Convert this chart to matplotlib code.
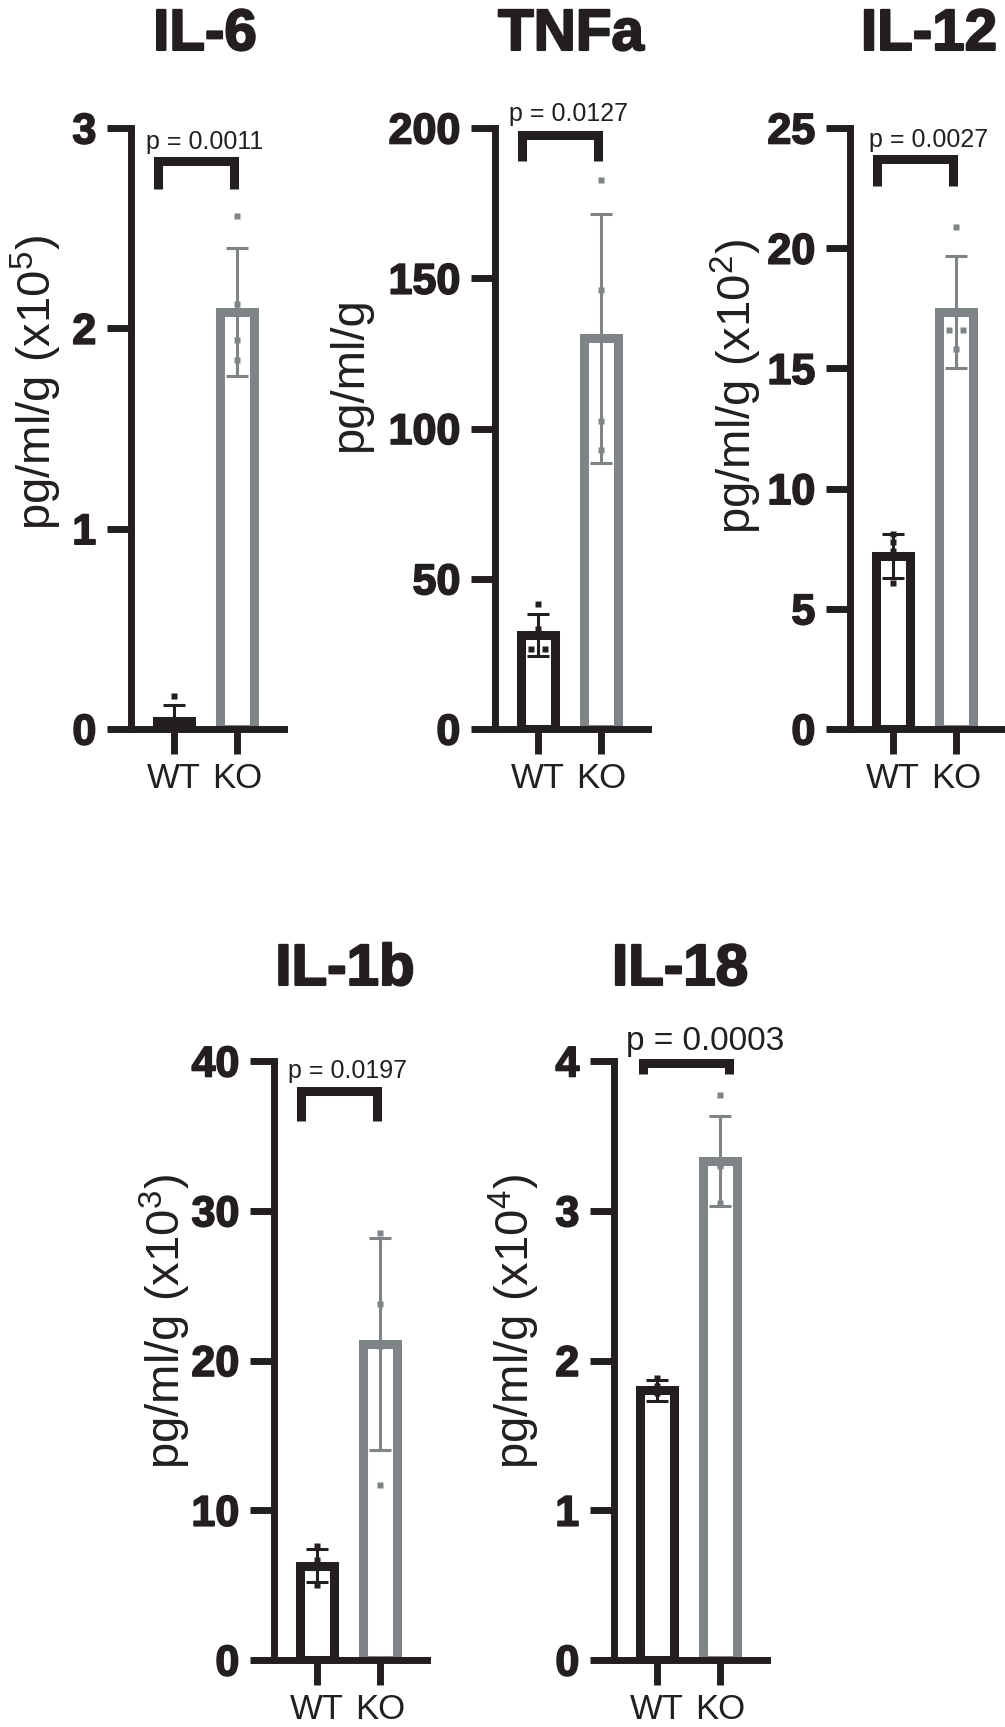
import matplotlib
matplotlib.use("Agg")
import matplotlib.pyplot as plt
import matplotlib.patheffects as pe
import numpy as np

plt.rcParams['font.family'] = ['Liberation Sans', 'DejaVu Sans']
plt.rcParams['mathtext.default'] = 'regular'

# ---------------- data ----------------
panels = ["IL-6", "TNFa", "IL-12", "IL-1b", "IL-18"]
groups = ["WT", "KO"]
ylabels = ["pg/ml/g (x10$^{5}$)", "pg/ml/g", "pg/ml/g (x10$^{2}$)",
           "pg/ml/g (x10$^{3}$)", "pg/ml/g (x10$^{4}$)"]
yticks = [[0, 1, 2, 3], [0, 50, 100, 150, 200], [0, 5, 10, 15, 20, 25],
          [0, 10, 20, 30, 40], [0, 1, 2, 3, 4]]
pvalues = ["p = 0.0011", "p = 0.0127", "p = 0.0027", "p = 0.0197", "p = 0.0003"]

wt_mean = [0.040, 31.3, 7.2, 6.3, 1.80]
wt_sd = [0.082, 7.1, 0.92, 1.08, 0.07]
ko_mean = [2.08, 130.0, 17.35, 21.1, 3.33]
ko_sd = [0.32, 41.4, 2.32, 7.1, 0.30]

wt_points = [[0.166, 0.004, 0.002, 0.003],
             [41.7, 33.2, 26.7, 26.7],
             [8.12, 7.77, 7.4, 6.06],
             [7.6, 6.3, 5.0, 6.7],
             [1.88, 1.80, 1.78, 1.83]]
ko_points = [[2.56, 2.12, 1.94, 1.84],
             [182.6, 146.0, 102.6, 92.8],
             [20.9, 16.6, 16.6, 15.8],
             [28.5, 23.8, 21.0, 11.7],
             [3.77, 3.31, 3.05, 3.30]]

# ---------------- layout / style ----------------
W, H = 1005, 1727
BLACK = '#231f20'
GRAY = '#7f8487'
axis_x = [131, 495, 850, 274, 614]
axis_top = [128, 128, 128, 1061, 1061]
axis_bot = [729, 729, 729, 1660, 1660]
title_xy = [(205, 35), (571, 35), (929, 35), (345, 970), (680, 970)]
ylabel_xy = [(36, 383), (350, 375), (736, 387), (165, 1322), (514, 1322)]
# bracket: (x_left, x_right, y_bar, y_leg, text_x, text_y, text_size)
brackets = [(-0.25, 0.95, 2.835, 2.695, 0.49, 2.93, 18),
            (-0.25, 0.95, 197.7, 189.0, 0.48, 204.7, 18),
            (-0.25, 0.95, 23.7, 22.6, 0.56, 24.5, 18),
            (-0.25, 0.95, 38.0, 36.0, 0.48, 39.3, 18),
            (-0.22, 1.15, 3.985, 3.91, 0.76, 4.13, 24)]
jitter_wt = [[0, 0, 0, 0], [0, 0, -0.11, 0.11], [0, 0, 0, 0], [0, 0, 0, 0], [0, 0, 0, 0]]
jitter_ko = [[0, 0, 0, 0], [0, 0, 0, 0], [0, -0.11, 0.11, 0], [0, 0, 0, 0], [0, 0, 0, 0]]

PX_PER_UNIT = 63.0
XL = -43 / PX_PER_UNIT
XR = 110 / PX_PER_UNIT
AX_W = 153
heavy = [pe.withStroke(linewidth=1.2, foreground=BLACK)]

fig = plt.figure(figsize=(W / 100, H / 100), dpi=100)

for i, name in enumerate(panels):
    left = axis_x[i]
    top = axis_top[i]
    bot = axis_bot[i]
    ax = fig.add_axes([left / W, 1 - bot / H, AX_W / W, (bot - top) / H])
    ax.set_xlim(XL, XR)
    ax.set_ylim(0, yticks[i][-1])
    for s in ['top', 'right']:
        ax.spines[s].set_visible(False)
    for s in ['left', 'bottom']:
        ax.spines[s].set_linewidth(5)
        ax.spines[s].set_color(BLACK)
        ax.spines[s].set_capstyle('projecting')
    ax.patch.set_alpha(0)

    xs = np.arange(len(groups))
    means = [wt_mean[i], ko_mean[i]]
    sds = [wt_sd[i], ko_sd[i]]
    cols = [BLACK, GRAY]
    pts = [wt_points[i], ko_points[i]]
    jit = [jitter_wt[i], jitter_ko[i]]
    for g in range(2):
        ax.bar(xs[g], means[g], width=0.524, facecolor='white', edgecolor=cols[g],
               linewidth=6.5, zorder=2)
        ax.errorbar(xs[g], means[g], yerr=sds[g], fmt='none', ecolor=cols[g],
                    elinewidth=2.2, capsize=8, capthick=2.2, zorder=3)
        ax.plot(xs[g] + np.array(jit[g]), pts[g], 's', ms=4.5, color=cols[g],
                mec='none', zorder=4, clip_on=False)

    ax.set_xticks(xs)
    ax.set_xticklabels(groups, fontsize=25)
    ax.set_yticks(yticks[i])
    ax.set_yticklabels([str(t) for t in yticks[i]], fontsize=31, fontweight='bold')
    for lab in ax.get_yticklabels():
        lab.set_path_effects(heavy)
    ax.tick_params(axis='y', length=17, width=5, pad=8, color=BLACK, labelcolor=BLACK)
    ax.tick_params(axis='x', length=18, width=5, pad=6, color=BLACK, labelcolor=BLACK)

    x0, x1, yb, yl, tx, ty, ts = brackets[i]
    ax.plot([x0, x0, x1, x1], [yl, yb, yb, yl], color=BLACK, lw=6.5,
            solid_joinstyle='miter', solid_capstyle='butt', clip_on=False, zorder=5)
    ax.text(tx, ty, pvalues[i], ha='center', va='center', fontsize=ts,
            color=BLACK, clip_on=False)

    fig.text(title_xy[i][0] / W, 1 - title_xy[i][1] / H, name, ha='center',
             va='center', fontsize=42, fontweight='bold', color=BLACK,
             path_effects=[pe.withStroke(linewidth=1.5, foreground=BLACK)])
    fig.text(ylabel_xy[i][0] / W, 1 - ylabel_xy[i][1] / H, ylabels[i], ha='center',
             va='center', rotation=90, fontsize=34, color=BLACK)

fig.savefig("out.png", dpi=100, facecolor='white')
